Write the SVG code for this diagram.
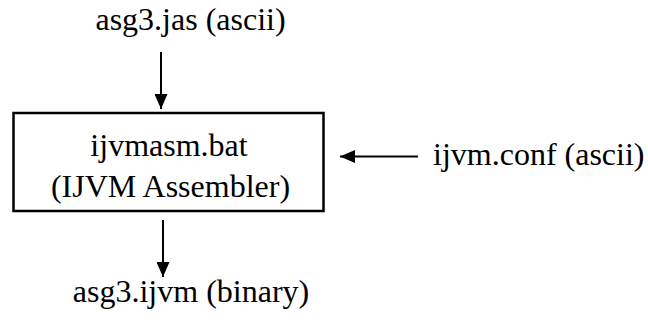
<svg xmlns="http://www.w3.org/2000/svg" width="648" height="325" viewBox="0 0 648 325">
<defs>
<style>
text{font-family:"Liberation Serif","Times New Roman",serif;font-size:32px;fill:#000}
.c{stroke:#000;stroke-width:2;fill:none}
.n{fill:#fff;stroke:#000;stroke-width:2.5}
</style>
<marker id="ah" markerWidth="15" markerHeight="13" refX="15" refY="6.5" orient="auto" markerUnits="userSpaceOnUse">
<path d="M0,0 L15,6.5 L0,13 Z" fill="#000"/>
</marker>
</defs>
<rect width="648" height="325" fill="#fff"/>
<g id="connectors">
<line class="c" x1="161" y1="52" x2="161" y2="109" marker-end="url(#ah)"/>
<line class="c" x1="418" y1="156.5" x2="340" y2="156.5" marker-end="url(#ah)"/>
<line class="c" x1="163" y1="220" x2="163" y2="277" marker-end="url(#ah)"/>
</g>
<g id="input">
<text x="190.5" y="30" text-anchor="middle">asg3.jas (ascii)</text>
</g>
<g id="assembler">
<rect class="n" x="13.5" y="113" width="310" height="98"/>
<text x="169" y="156" text-anchor="middle">ijvmasm.bat</text>
<text x="170.5" y="197" text-anchor="middle">(IJVM Assembler)</text>
</g>
<g id="config">
<text x="433" y="165">ijvm.conf (ascii)</text>
</g>
<g id="output">
<text x="191" y="302" text-anchor="middle">asg3.ijvm (binary)</text>
</g>
</svg>
